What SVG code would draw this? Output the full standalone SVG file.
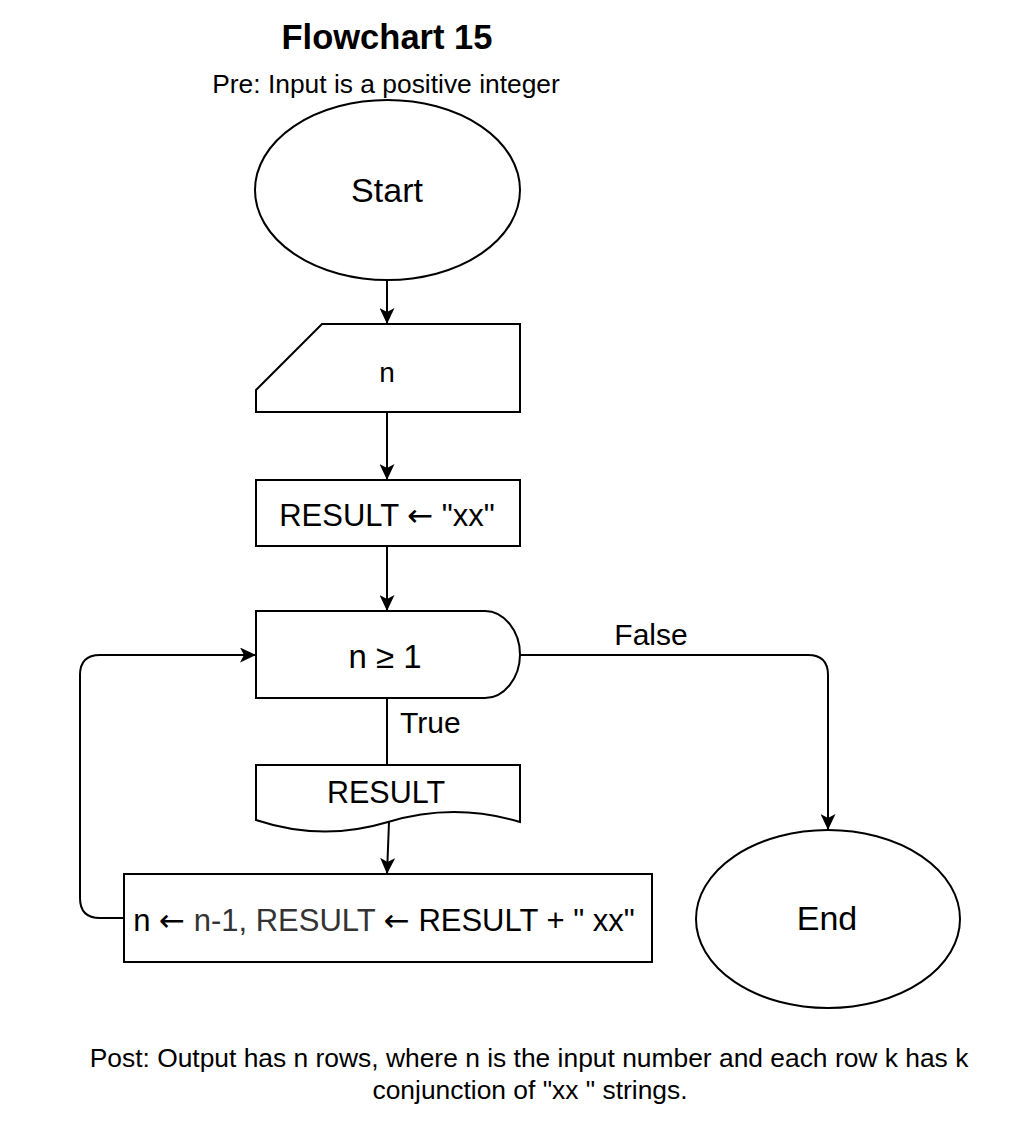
<svg xmlns="http://www.w3.org/2000/svg" width="1031" height="1122" viewBox="0 0 1031 1122">
  <style>
    text { font-family: "Liberation Sans", Arial, Helvetica, sans-serif; fill: #000; }
    .shape { fill: #fff; stroke: #000; stroke-width: 2; }
    .edge { fill: none; stroke: #000; stroke-width: 2; }
    .c { text-anchor: middle; }
    .title { font-size: 34.5px; font-weight: bold; }
    .note { font-size: 26.4px; }
    .term { font-size: 34px; }
    .lbl { font-size: 30px; }
    .arr { font-family: "DejaVu Sans", sans-serif; }
  </style>
  <defs>
    <marker id="arrow" markerUnits="userSpaceOnUse" viewBox="0 0 16 15" markerWidth="16" markerHeight="15" refX="16" refY="7.5" orient="auto">
      <path d="M0,0 L16,7.5 L0,15 L4,7.5 Z" fill="#000"/>
    </marker>
  </defs>
  <rect width="1031" height="1122" fill="#fff"/>

  <!-- heading and precondition -->
  <g id="title">
    <text class="title c" x="387" y="49">Flowchart 15</text>
    <text class="note c" x="386" y="93">Pre: Input is a positive integer</text>
  </g>

  <!-- connectors -->
  <g id="connectors">
    <path class="edge" d="M387,280 V324" marker-end="url(#arrow)"/>
    <path class="edge" d="M387,412 V480" marker-end="url(#arrow)"/>
    <path class="edge" d="M387,546 V611" marker-end="url(#arrow)"/>
    <path class="edge" d="M520,655 H808 Q828,655 828,675 V830" marker-end="url(#arrow)"/>
    <path class="edge" d="M387,698 V765"/>
    <path class="edge" d="M389,822 L387,874" marker-end="url(#arrow)"/>
    <path class="edge" d="M124,918 H100 Q80,918 80,898 V675 Q80,655 100,655 H256" marker-end="url(#arrow)"/>
    <text class="lbl c" x="651" y="645">False</text>
    <text class="lbl" x="400" y="733">True</text>
  </g>

  <g id="start">
    <ellipse class="shape" cx="387.5" cy="190" rx="132.5" ry="90"/>
    <text class="term c" x="387" y="202">Start</text>
  </g>

  <g id="input-n">
    <path class="shape" d="M256,390 L322,324 H520 V412 H256 Z"/>
    <text class="lbl c" x="387" y="382" style="font-size:28px">n</text>
  </g>

  <g id="init-result">
    <rect class="shape" x="256" y="480" width="264" height="66"/>
    <text class="lbl c" x="387" y="526" style="font-size:31px">RESULT <tspan class="arr">←</tspan> "xx"</text>
  </g>

  <g id="loop-test">
    <path class="shape" d="M256,611 H485 C504,611 520,631 520,654.5 C520,678 504,698 485,698 H256 Z"/>
    <text class="lbl c" x="385" y="668" style="font-size:33px">n ≥ 1</text>
  </g>

  <g id="print-result">
    <path class="shape" d="M256,765 H520 V822 Q454,802 388,822 Q322,842 256,820 Z"/>
    <text class="lbl c" x="386" y="803" style="font-size:30.5px">RESULT</text>
  </g>

  <g id="update">
    <rect class="shape" x="124" y="874" width="528" height="88"/>
    <text class="lbl c" x="384" y="931" style="font-size:31px">n <tspan class="arr">←</tspan> <tspan fill="#333">n-1, RESULT</tspan> <tspan class="arr">←</tspan> RESULT + " xx"</text>
  </g>

  <g id="end">
    <ellipse class="shape" cx="828" cy="919" rx="132" ry="89"/>
    <text class="term c" x="827" y="930">End</text>
  </g>

  <!-- postcondition -->
  <g id="postcondition">
    <text class="note c" x="529" y="1067">Post: Output has n rows, where n is the input number and each row k has k</text>
    <text class="note c" x="530" y="1099">conjunction of "xx " strings.</text>
  </g>
</svg>
